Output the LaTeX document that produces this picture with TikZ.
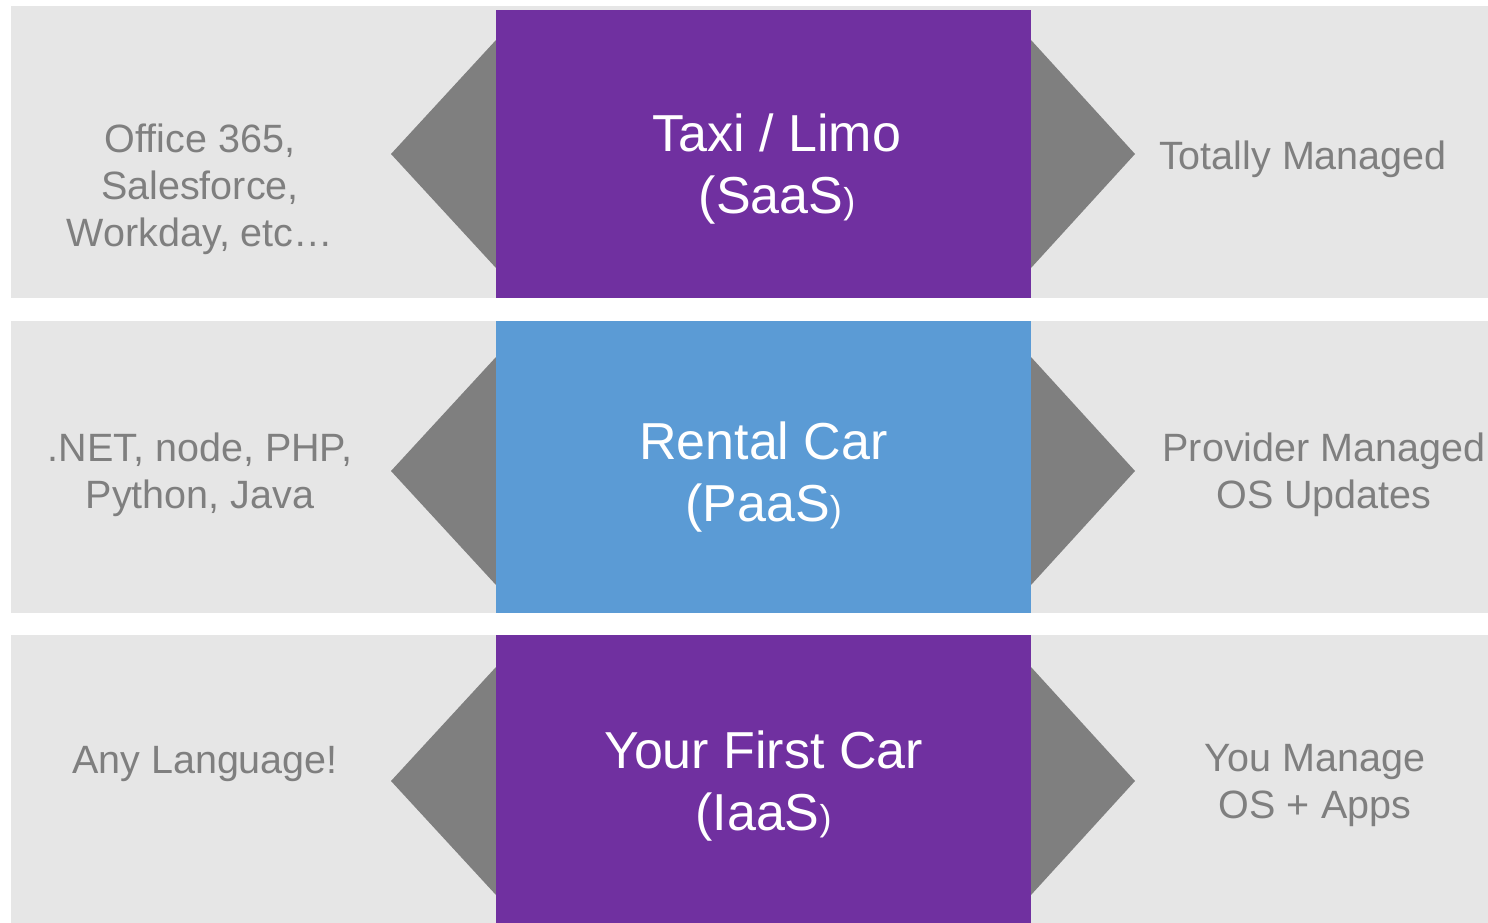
\documentclass[tikz,border=0pt]{standalone}
\usepackage{fontspec}
\setmainfont{Liberation Sans}
\definecolor{bandgray}{HTML}{E6E6E6}
\definecolor{arrowgray}{HTML}{7F7F7F}
\definecolor{txtgray}{HTML}{7F7F7F}
\definecolor{cpurple}{HTML}{7030A0}
\definecolor{cblue}{HTML}{5B9BD5}
\tikzset{
  band/.style={fill=bandgray, draw=none},
  tri/.style={fill=arrowgray, draw=none},
  core/.style={draw=none},
  title/.style={text=white, align=center, inner sep=0pt, font=\fontsize{52}{62}\selectfont},
  side/.style={text=txtgray, align=center, inner sep=0pt, font=\fontsize{39.5}{47}\selectfont},
}
\newcommand{\smallpar}{{\fontsize{36}{36}\selectfont)}}
\begin{document}
\begin{tikzpicture}[x=1pt,y=-1pt]
\useasboundingbox (0,0) rectangle (1488,923);
% row 1
\fill[band] (11,6) rectangle (1488,298);
\fill[tri] (496,40) -- (391,154) -- (496,268) -- cycle;
\fill[tri] (1031,40) -- (1135,154) -- (1031,268) -- cycle;
\fill[cpurple] (496,10) rectangle (1031,298);
\node[title] (t1) at (777,169.5) {Taxi / Limo\\(SaaS\smallpar};
\node[side] (l1) at (200,189.6) {Office 365,\\Salesforce,\\Workday, etc…};
\node[side] (r1) at (1303,159.5) {Totally Managed};
% row 2
\fill[band] (11,321) rectangle (1488,613);
\fill[tri] (496,357) -- (391,471) -- (496,585) -- cycle;
\fill[tri] (1031,357) -- (1135,471) -- (1031,585) -- cycle;
\fill[cblue] (496,321) rectangle (1031,613);
\node[title] (t2) at (763.5,477.5) {Rental Car\\(PaaS\smallpar};
\node[side] (l2) at (200,475) {.NET, node, PHP,\\Python, Java};
\node[side] (r2) at (1324,475) {Provider Managed\\OS Updates};
% row 3
\fill[band] (11,635) rectangle (1488,923);
\fill[tri] (496,667) -- (391,781) -- (496,895) -- cycle;
\fill[tri] (1031,667) -- (1135,781) -- (1031,895) -- cycle;
\fill[cpurple] (496,635) rectangle (1031,923);
\node[title] (t3) at (763.5,786.5) {Your First Car\\(IaaS\smallpar};
\node[side] (l3) at (205,764.5) {Any Language!};
\node[side] (r3) at (1315,786) {You Manage\\OS + Apps};
\end{tikzpicture}
\end{document}
